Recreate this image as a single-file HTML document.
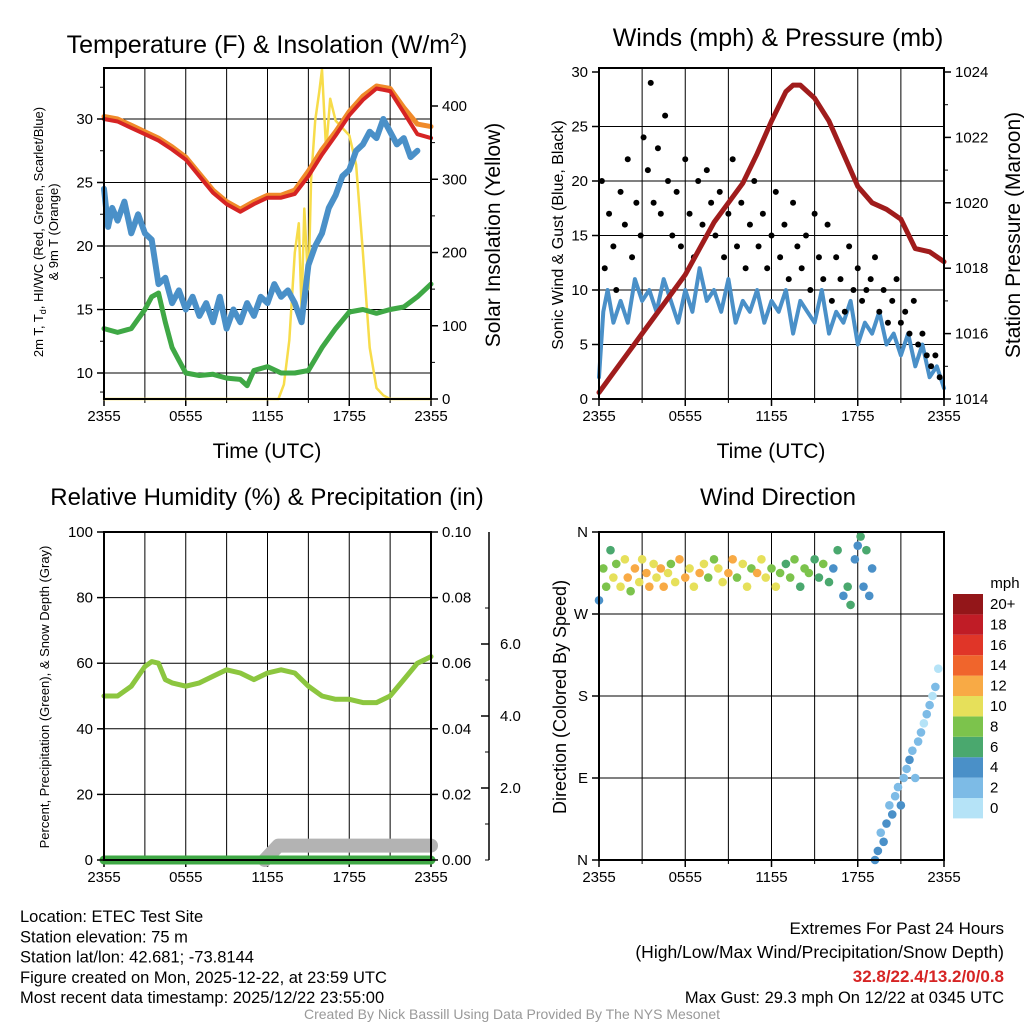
<!DOCTYPE html>
<html><head><meta charset="utf-8"><style>
body{margin:0;background:#fff}
svg{display:block;font-family:"Liberation Sans",sans-serif}
</style></head><body>
<svg id="c" width="1024" height="1024" viewBox="0 0 1024 1024"></svg>
<script>
// ---- data (hours since 2355) ----
const tempT=[0,1,2,3,4,5,6,7,8,9,10,11,12,13,14,15,16,17,18,19,20,21,22,23,24];
const temp2m=[30,29.8,29.3,28.8,28.3,27.6,26.8,25.5,24.2,23.3,22.7,23.3,23.8,23.8,24.1,25.5,27.2,28.7,30.3,31.5,32.4,32.2,30.5,28.8,28.5];
const temp9m=[30.2,30,29.5,29,28.5,27.8,27,25.7,24.4,23.5,22.9,23.5,24,24,24.4,25.9,27.6,29,30.6,31.8,32.6,32.4,30.9,29.6,29.4];
const hiwcT=[0,0.3,0.6,1,1.5,2,2.5,3,3.5,4,4.5,5,5.5,6,6.5,7,7.5,8,8.5,9,9.5,10,10.5,11,11.5,12,12.5,13,13.5,14,14.5,15,15.5,16,16.5,17,17.5,18,18.5,19,19.5,20,20.5,21,21.5,22,22.5,23];
const hiwc=[24.5,21.5,23,22,23.5,21,22.5,21,20.5,17,17.5,15.5,16.5,15,16,14.5,15.5,14,16,13.5,15,14,15.5,14.5,16,15.5,17,16,16.5,15.5,14,18.5,20,21,23,24,25.5,26,27.5,28,29,28.5,30,29,28,28.5,27,27.5];
const dewT=[0,1,2,3,3.5,4,4.5,5,5.5,6,7,8,9,10,10.5,11,12,13,14,15,16,17,18,19,20,21,22,23,24];
const dew=[13.5,13.2,13.5,15,16,16.3,14,12,11,10,9.8,9.9,9.6,9.5,9,10.2,10.5,10,10,10.2,12,13.5,14.8,15,14.7,15,15.2,16,17];
const solT=[0,12.8,13.2,13.6,14,14.3,14.5,14.7,15,15.2,15.5,15.8,16,16.3,16.6,17,17.5,18,18.5,19,19.5,20,20.5,21,24];
const solar=[0,0,20,80,200,240,120,260,150,300,380,420,450,340,410,380,370,360,320,200,70,15,5,0,0];
const windT=[0,0.3,0.6,1,1.5,2,2.5,3,3.5,4,4.5,5,5.5,6,6.5,7,7.5,8,8.5,9,9.5,10,10.5,11,11.5,12,12.5,13,13.5,14,14.5,15,15.5,16,16.5,17,17.5,18,18.5,19,19.5,20,20.5,21,21.5,22,22.5,23,23.5,24];
const wind=[2,8,10,7,9,7,11,9,10,8,11,9,7,10,8,12,9,10,8,11,7,9,8,10,7,9,8,10,6,9,8,7,10,6,8,7,9,5,7,6,8,5,6,4,6,3,5,2,3,1];
const presT=[0,1,2,3,4,5,6,7,8,9,10,11,12,13,13.5,14,15,16,17,18,19,20,21,22,23,24];
const pres=[1014.2,1014.8,1015.4,1016,1016.6,1017.2,1017.8,1018.6,1019.4,1020,1020.6,1021.5,1022.5,1023.4,1023.6,1023.6,1023.2,1022.5,1021.5,1020.5,1020,1019.8,1019.5,1018.6,1018.5,1018.2];
const gustT=[0.2,0.4,0.7,1,1.2,1.5,1.8,2,2.3,2.6,2.9,3.1,3.4,3.6,3.8,4.1,4.3,4.6,4.8,5.1,5.4,5.7,6,6.3,6.6,6.9,7.2,7.5,7.8,8.1,8.4,8.7,9,9.3,9.6,9.9,10.2,10.5,10.8,11.1,11.4,11.7,12,12.3,12.6,12.9,13.2,13.5,13.8,14.1,14.4,14.7,15,15.3,15.6,15.9,16.2,16.5,16.8,17.1,17.4,17.7,18,18.3,18.6,18.9,19.2,19.5,19.8,20.1,20.4,20.7,21,21.3,21.6,21.9,22.2,22.5,22.8,23.1,23.4,23.7];
const gust=[20,12,17,14,10,19,16,22,13,18,15,24,21,29,18,23,17,26,20,15,19,14,22,17,13,20,16,21,18,15,19,13,17,22,14,18,12,16,20,14,17,12,15,19,13,16,11,18,14,12,15,10,17,13,11,16,9,13,11,8,14,10,12,9,10,11,13,8,10,7,9,11,7,8,6,9,5,6,4,3,4,2];
const rhT=[0,1,2,3,3.5,4,4.5,5,6,7,8,9,10,11,12,13,14,15,16,17,18,19,20,21,22,23,24];
const rh=[50,50,53,59,60.5,60,55,54,53,54,56,58,57,55,57,58,57,53,50,49,49,48,48,50,55,60,62];
const snowT=[11.8,12.3,12.8,24];
const snow=[0,0.2,0.4,0.4];
const dirT=[0,0.3,0.5,0.8,1,1.2,1.5,1.8,2,2.2,2.5,2.8,3,3.3,3.5,3.8,4,4.3,4.5,4.8,5,5.3,5.6,6,6.3,6.6,7,7.3,7.6,8,8.3,8.6,9,9.3,9.6,10,10.3,10.6,11,11.3,11.6,12,12.3,12.6,13,13.3,13.6,14,14.3,14.6,15,15.3,15.6,16,16.3,16.6,17,17.3,17.5,17.8,18,18.2,18.4,18.6,18.8,19,19.2,19.4,19.6,19.8,20,20.2,20.4,20.6,20.8,21,21.2,21.4,21.6,21.8,22,22.2,22.4,22.6,22.8,23,23.2,23.4,23.6];
const dir=[285,320,300,340,310,325,300,330,310,295,320,305,330,315,300,325,310,320,300,315,325,305,330,310,320,300,315,325,310,330,320,305,315,330,310,325,300,320,315,330,310,320,300,315,325,310,330,300,320,315,330,310,325,305,320,340,290,300,280,330,345,355,300,340,290,320,0,10,30,20,40,60,50,70,80,60,90,100,110,120,90,130,140,150,160,170,180,190,210,230];
const dirSpd=[4,8,7,6,9,8,10,9,11,8,12,9,10,11,12,9,10,11,12,9,8,10,11,12,10,9,11,10,8,7,9,10,11,12,8,9,10,7,11,9,10,8,9,7,6,8,7,6,7,8,6,5,7,6,4,5,4,6,5,4,3,5,4,6,3,4,4,3,2,4,3,2,3,1,2,3,2,1,3,2,1,2,1,0,2,1,0,1,0,1];
const cbLabels=['0','2','4','6','8','10','12','14','16','18','20+'];
const cbColors=['#b5e3f7','#7dbbe6','#4a90c8','#4aa86e','#7cc34c','#e6e05a','#f8aa45','#f0652c','#e03528','#c01c26','#931619'];

const S=document.getElementById('c');const NS='http://www.w3.org/2000/svg';
function el(tag,a,txt,parent){const e=document.createElementNS(NS,tag);for(const k in a)e.setAttribute(k,a[k]);if(txt!==undefined)e.textContent=txt;(parent||S).appendChild(e);return e;}
function lin(d0,d1,r0,r1){return v=>r0+(v-d0)*(r1-r0)/(d1-d0);}
function line(xs,ys,fx,fy,stroke,w,name){let d='';xs.forEach((x,i)=>{d+=(i?'L':'M')+fx(x).toFixed(1)+','+fy(ys[i]).toFixed(1);});const p=el('path',{d:d,fill:'none',stroke:stroke,'stroke-width':w,'stroke-linejoin':'round','stroke-linecap':'round'});

return p;}
function txt(x,y,s,size,anchor,name,extra){const a=Object.assign({x:x,y:y,'font-size':size,'text-anchor':anchor||'middle',fill:'#000'},extra||{});const t=el('text',a,s);

return t;}
const xlab=['2355','0555','1155','1755','2355'];
function frame(L,R,T,B,hLines,name){
  const fx=lin(0,24,L,R);
  for(let h=3;h<24;h+=3){const g=el('line',{x1:fx(h),x2:fx(h),y1:T,y2:B,stroke:'#000','stroke-width':1});}
  hLines.forEach(y=>{const g=el('line',{x1:L,x2:R,y1:y,y2:y,stroke:'#000','stroke-width':1});});
  for(let h=0;h<=24;h+=6){const tk=el('line',{x1:fx(h),x2:fx(h),y1:B,y2:B+7,stroke:'#000','stroke-width':1.5});
    txt(fx(h),B+22,xlab[h/6],15,'middle',name+'-xtick-label');}
  for(let h=3;h<24;h+=6){const tk=el('line',{x1:fx(h),x2:fx(h),y1:B,y2:B+4,stroke:'#000','stroke-width':1});}
  return fx;}
function border(L,R,T,B,name){const r=el('rect',{x:L,y:T,width:R-L,height:B-T,fill:'none',stroke:'#000','stroke-width':2});}
function yticks(x,vals,fy,labels,side,name,minor){vals.forEach((v,i)=>{const dx=side<0?-7:7;const t=el('line',{x1:x,x2:x+dx,y1:fy(v),y2:fy(v),stroke:'#000','stroke-width':1.5});
 txt(x+(side<0?-11:11),fy(v)+5,labels[i],15,side<0?'end':'start',name+'-tick-label');});
 (minor||[]).forEach(v=>{const t=el('line',{x1:x,x2:x+(side<0?-4:4),y1:fy(v),y2:fy(v),stroke:'#000','stroke-width':1});});}

// ---- Panel 1 ----
{const L=104,R=431,T=68,B=399;const fy=lin(10,30,373,119);const fs=lin(0,400,399,106);
const fx=frame(L,R,T,B,[10,15,20,25,30].map(fy),'temp-panel');
line(solT,solar,fx,fs,'#f7dc4a',2.5,'solar-insolation-line');
line(dewT,dew,fx,fy,'#3fa845',5,'dewpoint-line');
line(hiwcT,hiwc,fx,fy,'#4a90c8',6,'heat-index-windchill-line');
line(tempT,temp9m,fx,fy,'#f08a2a',5,'temp-9m-line');
line(tempT,temp2m,fx,fy,'#d62424',4,'temp-2m-line');
border(L,R,T,B,'temp-panel');
yticks(L,[10,15,20,25,30],fy,['10','15','20','25','30'],-1,'temp-y',[8.5,12.5,17.5,22.5,27.5,32.5]);
yticks(R,[0,100,200,300,400],fs,['0','100','200','300','400'],1,'solar-y',[50,150,250,350]);
const t=el('text',{x:267,y:53,'font-size':25,'text-anchor':'middle'});t.innerHTML='Temperature (F) &amp; Insolation (W/m<tspan dy="-9" font-size="16">2</tspan><tspan dy="9">)</tspan>';
txt(267,458,'Time (UTC)',21,'middle','temp-x-title');
const yl=el('text',{transform:'translate(43,232) rotate(-90)','font-size':13,'text-anchor':'middle'});yl.innerHTML='2m T, T<tspan font-size="9" dy="3">d</tspan><tspan dy="-3">, HI/WC (Red, Green, Scarlet/Blue)</tspan>';
txt(0,0,'& 9m T (Orange)',13,'middle','temp-y-title-2',{transform:'translate(58,232) rotate(-90)'});
txt(0,0,'Solar Insolation (Yellow)',21,'middle','solar-y-title',{transform:'translate(500,235) rotate(-90)'});}

// ---- Panel 2 ----
{const L=599,R=944,T=68,B=399;const fy=lin(0,30,399,72);const fp=lin(1014,1024,399,72);
const fx=frame(L,R,T,B,[5,10,15,20,25].map(fy),'wind-panel');
line(windT,wind,fx,fy,'#4a90c8',4,'sonic-wind-line');
gustT.forEach((t,i)=>{const c=el('circle',{cx:fx(t),cy:fy(gust[i]),r:3,fill:'#000'});});
line(presT,pres,fx,fp,'#a01c1c',5,'station-pressure-line');
border(L,R,T,B,'wind-panel');
yticks(L,[0,5,10,15,20,25,30],fy,['0','5','10','15','20','25','30'],-1,'wind-y');
yticks(R,[1014,1016,1018,1020,1022,1024],fp,['1014','1016','1018','1020','1022','1024'],1,'pressure-y',[1015,1017,1019,1021,1023]);
txt(778,46,'Winds (mph) & Pressure (mb)',25,'middle','wind-panel-title');
txt(771,458,'Time (UTC)',21,'middle','wind-x-title');
txt(0,0,'Sonic Wind & Gust (Blue, Black)',16,'middle','wind-y-title',{transform:'translate(563,235) rotate(-90)'});
txt(0,0,'Station Pressure (Maroon)',21,'middle','pressure-y-title',{transform:'translate(1020,235) rotate(-90)'});}

// ---- Panel 3 ----
{const L=104,R=431,T=532,B=860;const fy=lin(0,100,860,532);const fsn=lin(0,2,860,788);
const fx=frame(L,R,T,B,[20,40,60,80].map(fy),'rh-panel');
line(snowT,snow,fx,fsn,'#b3b3b3',14,'snow-depth-line');
line([0,24],[0,0],fx,fy,'#3fa845',9,'precipitation-line');
line(rhT,rh,fx,fy,'#8cc63f',5,'relative-humidity-line');
border(L,R,T,B,'rh-panel');
yticks(L,[0,20,40,60,80,100],fy,['0','20','40','60','80','100'],-1,'rh-y');
yticks(R,[0,20,40,60,80,100],fy,['0.00','0.02','0.04','0.06','0.08','0.10'],1,'precip-y');
const ax=el('line',{x1:489,x2:489,y1:532,y2:860,stroke:'#000','stroke-width':1.5});
[2,4,6].forEach(v=>{const t=el('line',{x1:481,x2:489,y1:fsn(v),y2:fsn(v),stroke:'#000','stroke-width':1.5});txt(500,fsn(v)+5,v.toFixed(1),15,'start','snow-tick-label');});
[1,3,5,7,0].forEach(v=>{const t=el('line',{x1:485,x2:489,y1:fsn(v),y2:fsn(v),stroke:'#000','stroke-width':1});});
txt(267,505,'Relative Humidity (%) & Precipitation (in)',24,'middle','rh-panel-title');
txt(0,0,'Percent, Precipitation (Green), & Snow Depth (Gray)',13,'middle','rh-y-title',{transform:'translate(49,697) rotate(-90)'});}

// ---- Panel 4 ----
{const L=599,R=944,T=532,B=860;const fy=lin(0,360,860,532);
const fx=frame(L,R,T,B,[90,180,270].map(fy),'direction-panel');
const col=s=>cbColors[Math.max(0,Math.min(10,Math.round(s/2)))];
dirT.forEach((t,i)=>{const c=el('circle',{cx:fx(t),cy:fy(dir[i]),r:4.3,fill:col(dirSpd[i])});});
border(L,R,T,B,'direction-panel');
yticks(L,[0,90,180,270,360],fy,['N','E','S','W','N'],-1,'direction-y');
txt(778,505,'Wind Direction',24,'middle','direction-panel-title');
txt(0,0,'Direction (Colored By Speed)',18,'middle','direction-y-title',{transform:'translate(566,697) rotate(-90)'});
txt(1005,588,'mph',15,'middle','colorbar-title');
cbColors.forEach((c,i)=>{const y=798-i*20.4;const r=el('rect',{x:953,y:y,width:30,height:20.4,fill:c});
txt(990,y+15,cbLabels[i],15,'start','colorbar-label');});}

// ---- footer ----
['Location: ETEC Test Site','Station elevation: 75 m','Station lat/lon: 42.681; -73.8144','Figure created on Mon, 2025-12-22, at 23:59 UTC','Most recent data timestamp: 2025/12/22 23:55:00'].forEach((s,i)=>txt(20,922+i*20.3,s,16.5,'start','station-info-line'));
txt(1004,934,'Extremes For Past 24 Hours',17,'end','extremes-title');
txt(1004,958,'(High/Low/Max Wind/Precipitation/Snow Depth)',17.5,'end','extremes-subtitle');
txt(1004,982,'32.8/22.4/13.2/0/0.8',17,'end','extremes-values',{fill:'#d62424','font-weight':'bold'});
txt(1004,1003,'Max Gust: 29.3 mph On 12/22 at 0345 UTC',16.5,'end','max-gust');
txt(512,1019,'Created By Nick Bassill Using Data Provided By The NYS Mesonet',14,'middle','credits',{fill:'#999'});
</script>
</body></html>
